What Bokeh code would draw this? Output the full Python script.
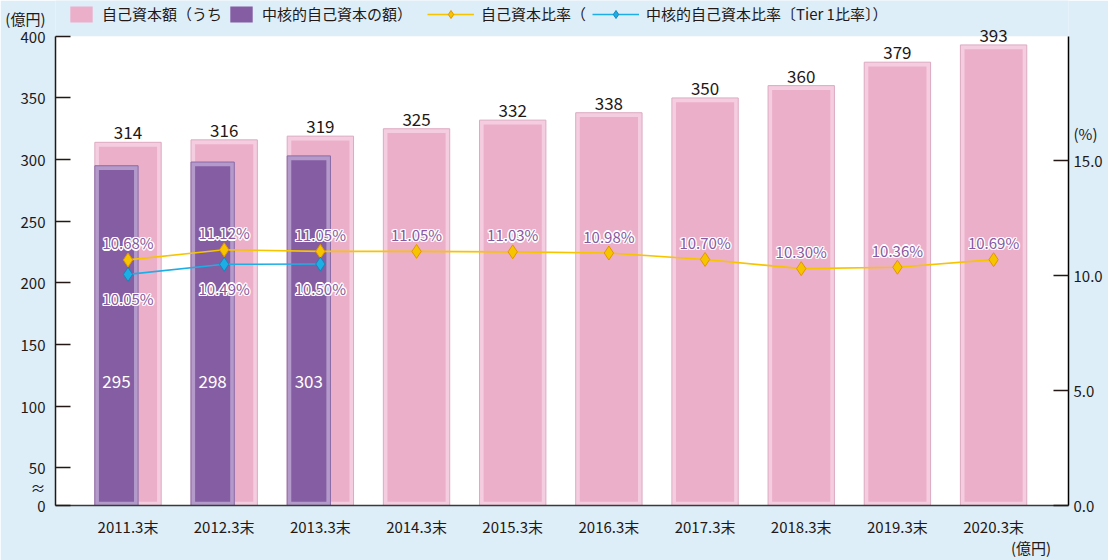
from bokeh.plotting import figure
from bokeh.models import (Range1d, LinearAxis, FixedTicker, ColumnDataSource, Legend,
                          LegendItem, BoxAnnotation, PrintfTickFormatter)
from bokeh.core.properties import value
from bokeh.embed import file_html
from bokeh.resources import INLINE

# ---------------- data ----------------
years = ["2011.3末", "2012.3末", "2013.3末", "2014.3末", "2015.3末",
         "2016.3末", "2017.3末", "2018.3末", "2019.3末", "2020.3末"]
capital = [314, 316, 319, 325, 332, 338, 350, 360, 379, 393]          # 自己資本額 (億円)
core_capital = [295, 298, 303]                                         # 中核的自己資本の額 (億円)
capital_ratio = [10.68, 11.12, 11.05, 11.05, 11.03, 10.98, 10.70, 10.30, 10.36, 10.69]  # %
tier1_ratio = [10.05, 10.49, 10.50]                                    # %
left_ticks = [50, 100, 150, 200, 250, 300, 350, 400]
right_ticks = [0, 5, 10, 15]
unit_left = "(億円)"
unit_right = "(%)"

# ---------------- style ----------------
FONT = "Noto Sans CJK JP"
TXT = "#231815"
BG = "#ddeef9"
PINK, PINK_LIGHT, PINK_EDGE = "#ecafca", "#f5cde0", "#dcaac1"
PURPLE, PURPLE_LIGHT, PURPLE_EDGE = "#845da2", "#b39acb", "#8a6aa6"
YELLOW, YELLOW_EDGE = "#f7c400", "#e29500"
BLUE, BLUE_EDGE = "#1eaee6", "#1685b8"
LABEL_PURPLE = "#87599f"

BREAK_START = 19.4     # axis break: bottom of the plot is labelled "0"
TOP_VALUE = 400        # top of the white plotting area
Y_END = 429.04         # room above the white area for the value labels
PCT_END = 21.96
PCT_AT_TOP = 20.40
IN_BAR_LABEL_Y = 120   # height of the white labels inside purple bars

n = len(years)
xs = list(range(n))
BAR_W = 0.69
CORE_W = 0.45
core_shift = -BAR_W / 2 + CORE_W / 2
core_x = [i + core_shift for i in xs[:len(core_capital)]]

src = ColumnDataSource(dict(
    x=xs, cap=capital, cap_in=[v - 3.5 for v in capital],
    lab=[str(v) for v in capital],
    ratio=capital_ratio, rlab=[f"{v:.2f}%" for v in capital_ratio]))
src_core = ColumnDataSource(dict(
    x=core_x, xl=xs[:len(core_capital)], cap=core_capital,
    cap_in=[v - 3.5 for v in core_capital],
    lab=[str(v) for v in core_capital], ly=[IN_BAR_LABEL_Y] * len(core_capital),
    ratio=tier1_ratio, rlab=[f"{v:.2f}%" for v in tier1_ratio]))

p = figure(width=1108, height=560, output_backend="svg", toolbar_location=None,
           x_range=Range1d(-0.754, 9.779), y_range=Range1d(BREAK_START, Y_END),
           min_border_left=55, min_border_right=40, min_border_top=0, min_border_bottom=52)
p.background_fill_color = BG
p.border_fill_color = BG
p.outline_line_color = None
p.grid.visible = False
p.extra_y_ranges = {"pct": Range1d(0, PCT_END)}

# white plotting area
p.add_layout(BoxAnnotation(bottom=BREAK_START, top=TOP_VALUE, fill_color="white", fill_alpha=1,
                           line_color=None, level="underlay"))

# ---------------- bars ----------------
pink_outer = p.vbar(x="x", width=BAR_W, top="cap", bottom=BREAK_START, source=src,
                    fill_color=PINK_LIGHT, line_color=PINK_EDGE, line_width=1)
pink_inner = p.vbar(x="x", width=BAR_W - 0.085, top="cap_in", bottom=BREAK_START + 3, source=src,
                    fill_color=PINK, line_color=None)
purple_outer = p.vbar(x="x", width=CORE_W, top="cap", bottom=BREAK_START, source=src_core,
                      fill_color=PURPLE_LIGHT, line_color=PURPLE_EDGE, line_width=1)
purple_inner = p.vbar(x="x", width=CORE_W - 0.085, top="cap_in", bottom=BREAK_START + 3,
                      source=src_core, fill_color=PURPLE, line_color=None)

# value labels
p.text(x="x", y="cap", text="lab", source=src, text_align="center", text_baseline="bottom",
       y_offset=-3, text_font=value(FONT), text_font_size="17px", text_color=TXT)
p.text(x="x", y="ly", text="lab", source=src_core, text_align="center", text_baseline="middle",
       text_font=value(FONT), text_font_size="17px", text_color="white")

# ---------------- lines ----------------
y_line = p.line(x="x", y="ratio", source=src, y_range_name="pct", line_color=YELLOW, line_width=1.6)
y_pts = p.scatter(x="x", y="ratio", source=src, y_range_name="pct", marker="diamond",
                  size=14, fill_color=YELLOW, line_color=YELLOW_EDGE, line_width=1)
b_line = p.line(x="xl", y="ratio", source=src_core, y_range_name="pct", line_color=BLUE, line_width=1.6)
b_pts = p.scatter(x="xl", y="ratio", source=src_core, y_range_name="pct", marker="diamond",
                  size=14, fill_color=BLUE, line_color=BLUE_EDGE, line_width=1)

halo = [(-1.3, 0), (1.3, 0), (0, -1.3), (0, 1.3), (-1, -1), (1, -1), (-1, 1), (1, 1)]
for s, col, off in ((src, "x", -17), (src_core, "xl", 24)):
    # white halo, then purple text on top
    for dx, dy in halo:
        p.text(x=col, y="ratio", text="rlab", source=s, y_range_name="pct", text_align="center",
               text_baseline="middle", x_offset=dx, y_offset=off + dy, text_font=value(FONT),
               text_font_size="15px", text_color="white")
    p.text(x=col, y="ratio", text="rlab", source=s, y_range_name="pct", text_align="center",
           text_baseline="middle", y_offset=off, text_font=value(FONT), text_font_size="15px",
           text_color=LABEL_PURPLE)

# ---------------- axes ----------------
xa = p.xaxis[0]
xa.ticker = FixedTicker(ticks=xs)
x_over = {i: years[i] for i in xs}
# unit shown under the bottom-right corner, as a second line of the last category label
x_over[xs[-1]] = years[-1] + "\n" + "\u3000" * 5 + unit_left
xa.major_label_overrides = x_over
xa.major_tick_line_color = None
xa.minor_tick_line_color = None
xa.axis_line_color = "#3a3a3a"
xa.axis_line_width = 1.5
xa.major_label_standoff = 4
xa.major_label_text_line_height = 1.0
xa.major_label_text_font = FONT
xa.major_label_text_font_size = "15px"
xa.major_label_text_color = TXT

ya = p.yaxis[0]
ya.ticker = FixedTicker(ticks=[BREAK_START] + left_ticks)
ya.major_label_overrides = {BREAK_START: "≈\n0\n",
                            left_ticks[-1]: unit_left + "\n" + str(left_ticks[-1]) + "\n"}
ya.bounds = (BREAK_START, TOP_VALUE)
ya.major_tick_in = 15
ya.major_tick_out = 0
ya.minor_tick_line_color = None
ya.axis_line_color = TXT
ya.axis_line_width = 1.5
ya.major_tick_line_color = TXT
ya.major_tick_line_width = 1.5
ya.major_label_standoff = 10
ya.major_label_text_line_height = 0.85
ya.major_label_text_font = FONT
ya.major_label_text_font_size = "15px"
ya.major_label_text_color = TXT

ra = LinearAxis(y_range_name="pct", ticker=FixedTicker(ticks=right_ticks),
                formatter=PrintfTickFormatter(format="%.1f"), bounds=(0, PCT_AT_TOP))
ra.major_label_overrides = {right_ticks[-1]: unit_right + "\n" + f"{right_ticks[-1]:.1f}" + "\n"}
ra.major_tick_in = 15
ra.major_tick_out = 0
ra.minor_tick_line_color = None
ra.axis_line_color = "black"
ra.axis_line_width = 1.5
ra.major_tick_line_color = TXT
ra.major_tick_line_width = 1.5
ra.major_label_standoff = 5
ra.major_label_text_line_height = 1.28
ra.major_label_text_font = FONT
ra.major_label_text_font_size = "15px"
ra.major_label_text_color = TXT
p.add_layout(ra, "right")

# ---------------- legends ----------------
common = dict(orientation="horizontal", padding=0, margin=0, background_fill_alpha=0,
              border_line_color=None, label_text_font=FONT, label_text_font_size="15px",
              label_text_color=TXT, label_standoff=7, label_height=20)
leg1 = Legend(items=[LegendItem(label="自己資本額（うち", renderers=[pink_inner]),
                     LegendItem(label="中核的自己資本の額）", renderers=[purple_inner])],
              location=(12, 481), glyph_width=28, glyph_height=20, spacing=5, **common)
leg2 = Legend(items=[LegendItem(label="自己資本比率（", renderers=[y_line, y_pts]),
                     LegendItem(label="中核的自己資本比率〔Tier 1比率〕）", renderers=[b_line, b_pts])],
              location=(372, 481), glyph_width=47, glyph_height=20, spacing=6, **common)
p.add_layout(leg1, "center")
p.add_layout(leg2, "center")

open("out.html", "w").write(file_html(p, INLINE))
